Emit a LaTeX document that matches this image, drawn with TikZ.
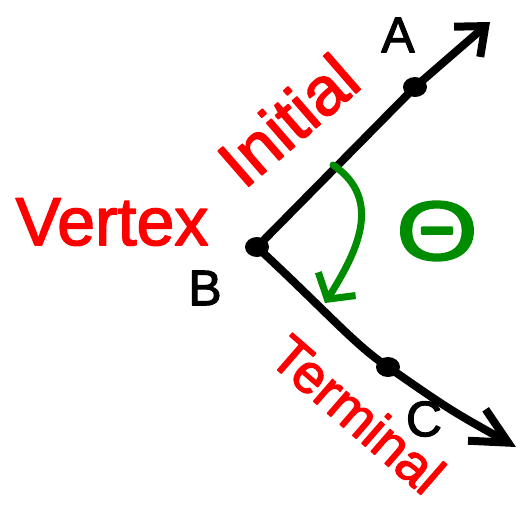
\documentclass[tikz,border=0pt]{standalone}
\usepackage{fontspec}
\setmainfont{Liberation Sans}[FakeBold=2.2]
\usetikzlibrary{arrows.meta,shapes.geometric}
\definecolor{penred}{RGB}{255,0,0}
\definecolor{pengreen}{RGB}{0,140,0}
\begin{document}
\begin{tikzpicture}[x=1pt,y=-1pt, line cap=round, line join=round,
  ray/.style={line width=8pt, draw=black},
  arcpen/.style={line width=7pt, draw=pengreen},
  dotmark/.style={ellipse, fill=black, minimum width=24pt, minimum height=20pt, inner sep=0pt},
  redlbl/.style={text=penred, inner sep=0pt},
  blklbl/.style={text=black, inner sep=0pt, font=\fontsize{50}{56}\selectfont}]
\useasboundingbox (0,0) rectangle (527,504);
% points
\node[dotmark] (B) at (257,247) {};
\node[dotmark] (A) at (415,87) {};
\node[dotmark] (C) at (388,367) {};
\coordinate (tipA) at (490,22);
\coordinate (tipC) at (516,447);
\coordinate (arcS) at (333,165);
\coordinate (arcE) at (325,303);
% rays
\draw[ray, -{Straight Barb[length=24pt,width=40pt]}] (B.center) -- (A.center) -- (tipA);
\draw[ray, -{Straight Barb[length=36pt,width=36pt]}] (B.center) .. controls (330,315) and (355,345) .. (C.center) .. controls (450,410) .. (tipC);
% angle arc
\draw[arcpen, -{Straight Barb[length=18pt,width=44pt]}] (arcS) .. controls (385,200) and (355,255) .. (arcE);
\node[text=pengreen, inner sep=0pt, xscale=1.25, font=\fontsize{84}{90}\selectfont] (theta) at (437,231) {Θ};
% labels
\node[blklbl] (lA) at (398,35) {A};
\node[blklbl] (lB) at (205,288) {B};
\node[blklbl] (lC) at (424,419) {C};
\node[redlbl, font=\fontsize{68}{74}\selectfont] (vertex) at (112,222) {Vertex};
\node[redlbl, rotate=41, font=\fontsize{68}{74}\selectfont] (initial) at (288,120) {Initial};
\node[redlbl, rotate=-41, font=\fontsize{55}{62}\selectfont] (terminal) at (358,414) {Terminal};
\end{tikzpicture}
\end{document}
